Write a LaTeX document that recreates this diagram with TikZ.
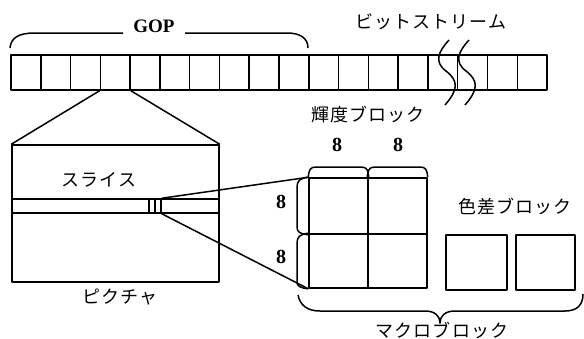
\documentclass[tikz,border=0pt]{standalone}
\usepackage{fontspec}
\setmainfont{Liberation Serif}
\newfontfamily\jp[LetterSpace=6]{Noto Sans CJK JP}
\begin{document}
\begin{tikzpicture}[x=1pt,y=-1pt,
  ln/.style={line width=1.5pt, line join=round},
  cell/.style={draw, ln, inner sep=0pt, minimum width=29.78pt, minimum height=35pt},
  blk/.style={draw, ln, inner sep=0pt},
  jt/.style={font=\jp\fontsize{18}{18}\selectfont, inner sep=0pt},
  num/.style={font=\bfseries\fontsize{20}{20}\selectfont, inner sep=0pt}]
\useasboundingbox (0,0) rectangle (584,338);
% bitstream
\foreach \i in {1,...,18}
  \node[cell] (c\i) at ({11+(\i-0.5)*29.78},72.5) {};
% break marks
\draw[ln] (449,40) .. controls (438,52) and (434,62) .. (446,71) .. controls (459,81) and (458,90) .. (445,105);
\draw[ln] (469,40) .. controls (458,52) and (454,62) .. (466,71) .. controls (479,81) and (478,90) .. (465,105);
% GOP brace
\node[num, font=\bfseries\fontsize{19}{19}\selectfont] (gop) at (154,26) {GOP};
\draw[ln] (10,48) .. controls (11,38) and (18,33) .. (35,33) -- (123,33);
\draw[ln] (185,33) -- (287,33) .. controls (300,33) and (308,38) .. (308,48);
\node[jt] (bs) at (431,22) {ビットストリーム};
% picture
\node[blk, minimum width=207pt, minimum height=137pt] (pic) at (115.5,213.5) {};
\node[blk, minimum width=207pt, minimum height=14pt] (slice) at (115.5,206) {};
\node[blk, minimum width=12pt, minimum height=14pt] (mb) at (155,206) {};
\draw[ln] (mb.north) -- (mb.south);
\draw[ln] (c4.south west) -- (pic.north west);
\draw[ln] (c4.south east) -- (pic.north east);
\node[jt] (sl) at (99,180) {スライス};
\node[jt] (pc) at (120,297) {ピクチャ};
% luminance blocks
\node[blk, minimum width=59pt, minimum height=56pt] (y1) at (338.5,206) {};
\node[blk, minimum width=59pt, minimum height=56pt] (y2) at (397.5,206) {};
\node[blk, minimum width=59pt, minimum height=54pt] (y3) at (338.5,261) {};
\node[blk, minimum width=59pt, minimum height=54pt] (y4) at (397.5,261) {};
\draw[ln] (mb.north east) -- (y1.north west);
\draw[ln] (mb.south east) -- (y3.south west);
% top braces
\draw[ln] (y1.north west) .. controls (309,170) and (310,167) .. (316,167) -- (361,167) .. controls (367,167) and (368,170) .. (y1.north east);
\draw[ln] (y2.north west) .. controls (368,170) and (369,167) .. (375,167) -- (420,167) .. controls (426,167) and (427,170) .. (y2.north east);
% left braces
\draw[ln] (y1.north west) .. controls (300,178) and (297,181) .. (297,187) -- (297,227) .. controls (297,232) and (300,234) .. (y1.south west);
\draw[ln] (y3.north west) .. controls (300,234) and (297,237) .. (297,243) -- (297,282) .. controls (297,286) and (300,288) .. (y3.south west);
\node[num] (n1) at (337,145) {8};
\node[num] (n2) at (398,145) {8};
\node[num] (n3) at (281,202) {8};
\node[num] (n4) at (281,257) {8};
\node[jt] (yl) at (368,115) {輝度ブロック};
% chroma
\node[blk, minimum width=61pt, minimum height=55pt] (cb) at (476.5,262.5) {};
\node[blk, minimum width=59pt, minimum height=55pt] (cr) at (545.5,262.5) {};
\node[jt] (cl) at (515,207) {色差ブロック};
% macroblock brace
\draw[ln] (298,295) .. controls (300,305) and (307,311) .. (320,311) -- (425,311) .. controls (435,311) and (440,316) .. (440,323) .. controls (440,316) and (445,311) .. (455,311) -- (565,311) .. controls (577,311) and (583,305) .. (583,294);
\node[jt] (ml) at (442,330) {マクロブロック};
\end{tikzpicture}
\end{document}
